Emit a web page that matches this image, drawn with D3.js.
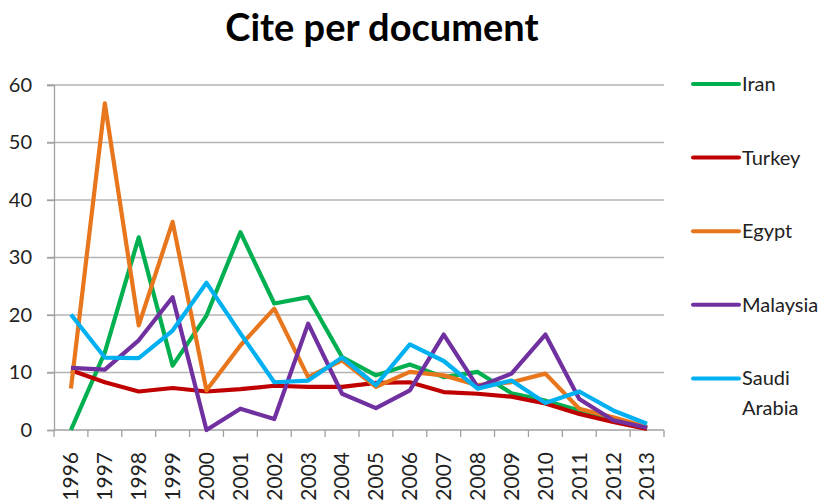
<!DOCTYPE html>
<html>
<head>
<meta charset="utf-8">
<script src="https://cdn.jsdelivr.net/npm/d3@7"></script>
<style>
  body { margin: 0; background: #fff; }
  text { font-family: Lato, "Open Sans", sans-serif; fill: #222; }
</style>
</head>
<body>
<svg id="chart" width="827" height="503"></svg>
<script>
// data
const years = ['1996','1997','1998','1999','2000','2001','2002','2003','2004',
  '2005','2006','2007','2008','2009','2010','2011','2012','2013'];
const iran     = [0, 13.5, 33.5, 11.2, 19.9, 34.4, 22, 23.1, 12.7, 9.5, 11.4, 9.2, 10.1, 6.4, 5.1, 3.4, 2.0, 0.4];
const turkey   = [10.4, 8.3, 6.7, 7.3, 6.7, 7.1, 7.7, 7.5, 7.5, 8.2, 8.3, 6.6, 6.3, 5.8, 4.6, 2.8, 1.4, 0.2];
const egypt    = [7.2, 56.8, 18.2, 36.2, 6.9, 14.7, 21.1, 9.2, 12.1, 7.5, 10.1, 9.5, 7.8, 8.3, 9.8, 3.7, 2.2, 0.5];
const malaysia = [10.8, 10.5, 15.6, 23.1, 0, 3.7, 1.9, 18.5, 6.3, 3.8, 6.9, 16.6, 7.5, 9.8, 16.6, 5.4, 1.7, 0.4];
const saudi    = [20.1, 12.6, 12.5, 17.3, 25.6, 16.8, 8.3, 8.6, 12.6, 7.8, 14.9, 12.0, 7.2, 8.6, 4.7, 6.7, 3.4, 1.1];
const yTicks = [0, 10, 20, 30, 40, 50, 60];

const series = [
  { name: 'Iran', values: iran, color: '#00b050' },
  { name: 'Turkey', values: turkey, color: '#c00000' },
  { name: 'Egypt', values: egypt, color: '#e8761c' },
  { name: 'Malaysia', values: malaysia, color: '#7030a0' },
  { name: 'Saudi Arabia', values: saudi, color: '#00b0f0' }
];

const svg = d3.select('#chart');
const plotLeft = 54, plotRight = 664, plotTop = 85, plotBottom = 430;

// title
svg.append('text')
  .attr('x', 382)
  .attr('y', 41)
  .attr('text-anchor', 'middle')
  .style('font-size', '38px')
  .style('font-weight', 'bold')
  .style('fill', '#000')
  .text('Cite per document');

// scales
const x = d3.scaleBand().domain(years).range([plotLeft, plotRight]).padding(0);
const y = d3.scaleLinear().domain([0, 60]).range([plotBottom, plotTop]);

// gridlines
svg.append('g')
  .selectAll('line')
  .data(yTicks.slice(1))
  .enter()
  .append('line')
  .attr('x1', plotLeft - 7)
  .attr('x2', plotRight)
  .attr('y1', d => y(d))
  .attr('y2', d => y(d))
  .style('stroke', '#b4b4b4')
  .style('stroke-width', 1.3);

// y axis
const yAxis = svg.append('g')
  .attr('transform', 'translate(' + plotLeft + ',0)')
  .call(d3.axisLeft(y).tickValues(yTicks).tickSize(7).tickPadding(15));
yAxis.select('.domain').style('stroke', '#a0a0a0').style('stroke-width', 1.3);
yAxis.selectAll('.tick line').style('stroke', '#a0a0a0').style('stroke-width', 1.3);
yAxis.selectAll('.tick text')
  .style('font-family', 'Lato, sans-serif')
  .style('font-size', '20px')
  .style('fill', '#222');

// x axis: labels centred on categories, ticks between them
const xAxis = svg.append('g')
  .attr('transform', 'translate(0,' + plotBottom + ')')
  .call(d3.axisBottom(x).tickSize(0).tickPadding(0));
xAxis.select('.domain').remove();
xAxis.selectAll('.tick text')
  .attr('transform', 'rotate(-90)')
  .attr('x', -22)
  .attr('y', 0)
  .attr('dy', '0.35em')
  .attr('text-anchor', 'end')
  .style('font-family', 'Lato, sans-serif')
  .style('font-size', '21px')
  .style('fill', '#222');

svg.append('line')
  .attr('x1', plotLeft).attr('x2', plotRight)
  .attr('y1', plotBottom).attr('y2', plotBottom)
  .style('stroke', '#a0a0a0').style('stroke-width', 1.3);

svg.append('g')
  .selectAll('line')
  .data(d3.range(years.length + 1))
  .enter()
  .append('line')
  .attr('x1', i => plotLeft + i * x.step())
  .attr('x2', i => plotLeft + i * x.step())
  .attr('y1', plotBottom)
  .attr('y2', plotBottom + 7)
  .style('stroke', '#a0a0a0')
  .style('stroke-width', 1.3);

// lines
const line = d3.line()
  .x((d, i) => x(years[i]) + x.bandwidth() / 2)
  .y(d => y(d));

svg.append('g')
  .selectAll('path')
  .data(series)
  .enter()
  .append('path')
  .attr('d', d => line(d.values))
  .style('fill', 'none')
  .style('stroke', d => d.color)
  .style('stroke-width', 4.2)
  .style('stroke-linejoin', 'round');

// legend
const legend = svg.append('g')
  .selectAll('g')
  .data(series)
  .enter()
  .append('g')
  .attr('transform', (d, i) => 'translate(693,' + (84 + i * 73.6) + ')');

legend.append('line')
  .attr('x1', 0).attr('x2', 46)
  .style('stroke', d => d.color)
  .style('stroke-width', 4)
  .style('stroke-linecap', 'round');

legend.append('text')
  .attr('x', 49)
  .attr('y', 0)
  .style('font-size', '20px')
  .selectAll('tspan')
  .data(d => d.name.split(' '))
  .enter()
  .append('tspan')
  .attr('x', 49)
  .attr('dy', (d, i) => i === 0 ? '0.35em' : '1.5em')
  .text(d => d);
</script>
</body>
</html>
